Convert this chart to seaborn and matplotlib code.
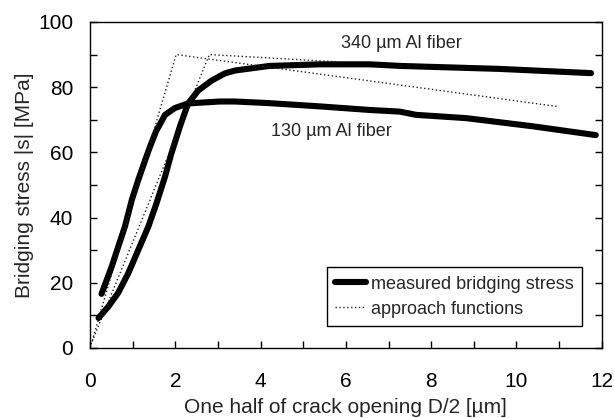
import matplotlib
matplotlib.use("Agg")
import matplotlib.pyplot as plt
import seaborn as sns
from matplotlib.ticker import MultipleLocator, FuncFormatter

# measured bridging stress, 130 um fiber
x_130 = [0.27, 0.51, 0.66, 0.82, 0.98, 1.13, 1.29, 1.4, 1.55, 1.76, 1.99, 2.3,
         3.04, 3.4, 4.2, 5.39, 6.56, 7.26, 7.65, 8.82, 10.38, 11.86]
y_130 = [16.6, 25.0, 31.0, 37.3, 45.4, 51.5, 57.5, 61.5, 66.5, 71.5, 73.6, 75.0,
         75.6, 75.6, 75.1, 74.1, 73.0, 72.5, 71.5, 70.5, 68.0, 65.3]

# measured bridging stress, 340 um fiber
x_340 = [0.2, 0.43, 0.66, 0.9, 1.13, 1.37, 1.56, 1.76, 1.9, 2.11, 2.3, 2.54,
         2.85, 3.16, 3.4, 4.2, 5.39, 6.56, 7.3, 9.6, 11.75]
y_340 = [9.2, 12.7, 16.9, 23.0, 30.0, 37.3, 44.4, 52.6, 59.3, 68.0, 75.0, 79.0,
         82.0, 84.2, 85.1, 86.5, 87.0, 87.0, 86.5, 85.6, 84.3]

# approach functions (piecewise linear)
xa_130 = [0.0, 2.02, 11.0]
ya_130 = [0.0, 90.0, 74.0]
xa_340 = [0.05, 2.8, 5.9]
ya_340 = [2.0, 90.0, 87.7]

sns.set_style("ticks")
plt.rcParams["font.family"] = ["Liberation Sans", "DejaVu Sans"]

fig = plt.figure(figsize=(6.14, 4.18), dpi=100)
ax = fig.add_axes([0.1466, 0.1675, 0.8334, 0.78])

thick = dict(color="black", linewidth=4.4, solid_capstyle="round", sort=False)
dotted = dict(color="#222222", linewidth=1.0, linestyle=(0, (1, 1.8)), sort=False)

sns.lineplot(x=x_130, y=y_130, ax=ax, label="measured bridging stress", **thick)
sns.lineplot(x=x_340, y=y_340, ax=ax, label="_nolegend_", **thick)
sns.lineplot(x=xa_130, y=ya_130, ax=ax, label="approach functions", **dotted)
sns.lineplot(x=xa_340, y=ya_340, ax=ax, label="_nolegend_", **dotted)

ax.set_xlim(0, 12)
ax.set_ylim(0, 100)
ax.xaxis.set_major_locator(MultipleLocator(1))
ax.yaxis.set_major_locator(MultipleLocator(10))
ax.xaxis.set_major_formatter(FuncFormatter(lambda v, p: f"{v:.0f}" if round(v) % 2 == 0 else ""))
ax.yaxis.set_major_formatter(FuncFormatter(lambda v, p: f"{v:.0f}" if round(v) % 20 == 0 else ""))
ax.tick_params(direction="in", length=5, width=1, labelsize=15, colors="black",
               right=True, top=False)
ax.tick_params(axis="x", pad=17)
ax.tick_params(axis="y", pad=12)
for s in ax.spines.values():
    s.set_visible(True)
    s.set_color("black")
    s.set_linewidth(1.0)

ax.set_xlabel("One half of crack opening D/2 [µm]", fontsize=15, labelpad=5)
ax.set_ylabel("Bridging stress |s| [MPa]", fontsize=15, labelpad=3)

ax.text(7.3, 93.3, "340 µm Al fiber", fontsize=13, ha="center", va="center")
ax.text(5.67, 66.4, "130 µm Al fiber", fontsize=13, ha="center", va="center")

leg = ax.legend(loc="lower right", bbox_to_anchor=(0.962, 0.068), fontsize=13,
                frameon=True, fancybox=False, edgecolor="black", framealpha=1,
                handlelength=1.7, handletextpad=0.3, borderpad=0.45, labelspacing=0.45,
                borderaxespad=0)
leg.get_frame().set_linewidth(1.0)

fig.savefig("out.png", dpi=100)
